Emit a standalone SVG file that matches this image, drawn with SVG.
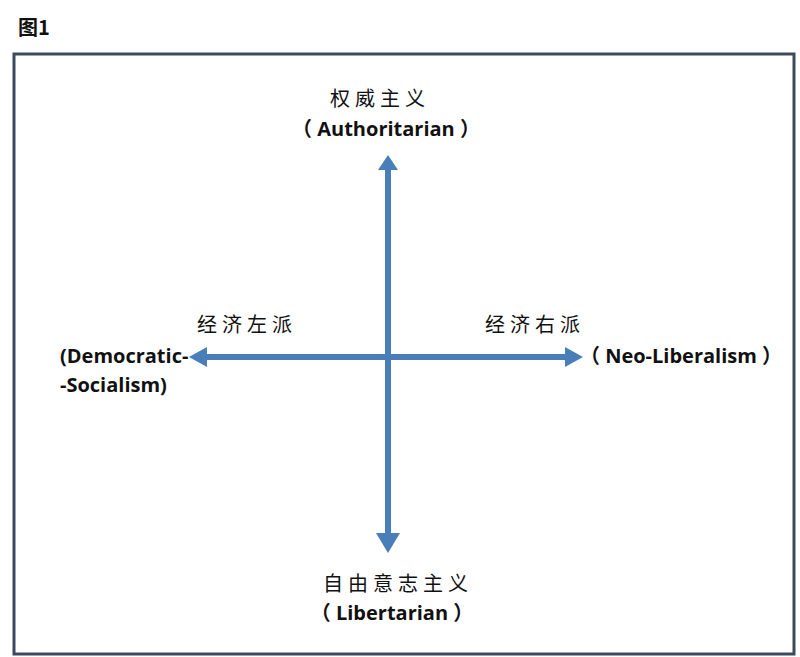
<svg xmlns="http://www.w3.org/2000/svg" width="800" height="657" viewBox="0 0 800 657">
<defs>
<style>
.cn{font-family:"Noto Sans CJK SC","Noto Sans",sans-serif;font-size:20px;fill:#111;}
.en{font-family:"Open Sans","Liberation Sans","Noto Sans CJK SC",sans-serif;font-weight:bold;font-size:20px;fill:#111;}
.ax{stroke:#4a7ebb;stroke-width:6;fill:none;}
.hd{fill:#4a7ebb;}
</style>
</defs>
<rect width="800" height="657" fill="#ffffff"/>
<text id="title" x="18" y="35" font-family="'Noto Sans CJK SC',sans-serif" font-size="20" font-weight="bold" fill="#111">图1</text>
<rect x="14" y="54" width="780" height="600" fill="none" stroke="#3e4a5c" stroke-width="3"/>
<g id="connectors">
<line class="ax" x1="388" y1="166" x2="388" y2="538"/>
<polygon class="hd" points="388,155 398,170 378,170"/>
<polygon class="hd" points="388,553 400,533 376,533"/>
<line class="ax" x1="202" y1="357" x2="572" y2="357"/>
<polygon class="hd" points="189,357 207,347 207,367"/>
<polygon class="hd" points="583,357 565,347 565,367"/>
</g>
<g id="top">
<text class="cn" x="380" y="106" text-anchor="middle" letter-spacing="5">权威主义</text>
<text class="en" x="386" y="136" text-anchor="middle" xml:space="preserve">（ Authoritarian ）</text>
</g>
<g id="left">
<text class="cn" x="247" y="332" text-anchor="middle" letter-spacing="5">经济左派</text>
<text class="en" x="60" y="363">(Democratic-</text>
<text class="en" x="60" y="392">-Socialism)</text>
</g>
<g id="right">
<text class="cn" x="535" y="332" text-anchor="middle" letter-spacing="5">经济右派</text>
<text class="en" x="681" y="363" text-anchor="middle" xml:space="preserve">（ Neo-Liberalism ）</text>
</g>
<g id="bottom">
<text class="cn" x="398" y="591" text-anchor="middle" letter-spacing="5">自由意志主义</text>
<text class="en" x="392" y="620" text-anchor="middle" xml:space="preserve">（ Libertarian ）</text>
</g>
</svg>
